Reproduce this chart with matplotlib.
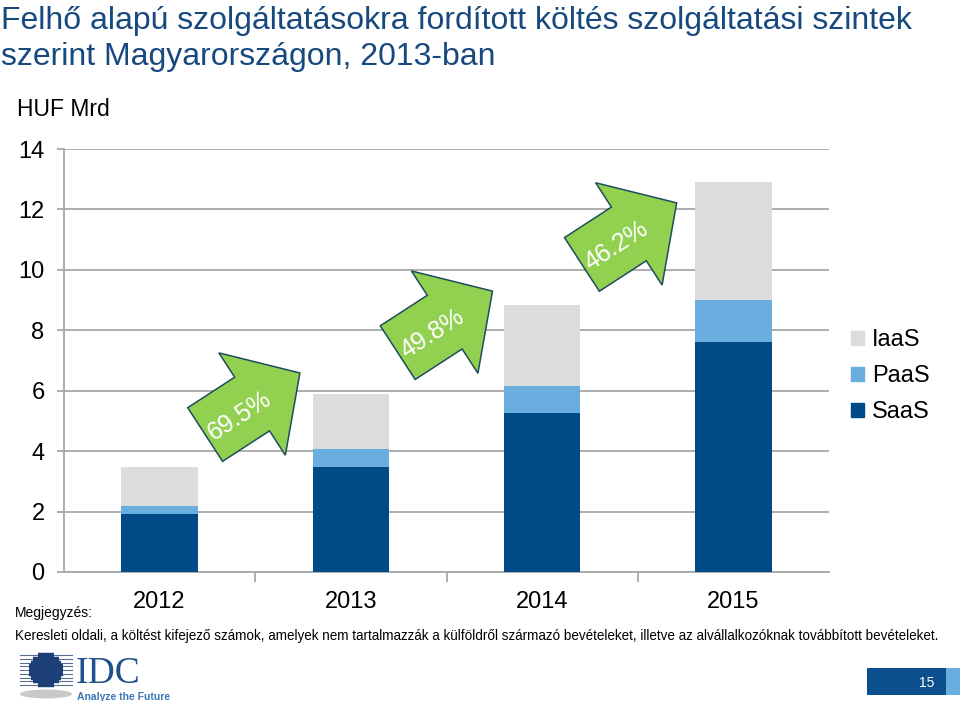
import numpy as np
import matplotlib
matplotlib.use('Agg')
import matplotlib.pyplot as plt
import matplotlib.transforms as mtransforms
from matplotlib.patches import Polygon, Rectangle, Ellipse, Patch

plt.rcParams['font.family'] = ['Liberation Sans', 'DejaVu Sans']

# Data (HUF Mrd)
years = ['2012', '2013', '2014', '2015']
saas = [1.92, 3.48, 5.26, 7.61]
paas = [0.26, 0.59, 0.90, 1.39]
iaas = [1.30, 1.82, 2.68, 3.91]
growth_labels = ['69.5%', '49.8%', '46.2%']
# arrow tail centres (data coords), between the bars
arrow_x = [0.238, 1.245, 2.208]
arrow_y = [4.55, 7.26, 10.18]

c_saas = '#004b87'
c_paas = '#6aaddf'
c_iaas = '#dcdcdc'
c_grid = '#a8a8a8'
c_title = '#17497f'

W, H = 960, 701
fig = plt.figure(figsize=(W / 100, H / 100), dpi=100)

# main axes
ax = fig.add_axes([64 / W, 1 - 572 / H, 765 / W, 423 / H])
x = np.arange(len(years))
bw = 0.4
ax.bar(x, saas, bw, color=c_saas, label='SaaS', zorder=3)
ax.bar(x, paas, bw, bottom=saas, color=c_paas, label='PaaS', zorder=3)
bot2 = np.array(saas) + np.array(paas)
ax.bar(x, iaas, bw, bottom=bot2, color=c_iaas, label='IaaS', zorder=3)

ax.set_xlim(-0.5, 3.5)
ax.set_ylim(0, 14)
ax.set_yticks(np.arange(0, 15, 2))
ax.yaxis.grid(True, color=c_grid, lw=1.3, zorder=0)
ax.set_axisbelow(True)
ax.tick_params(axis='y', length=5, color=c_grid, width=1.3, labelsize=17, pad=9)
ax.set_xticks(x)
ax.set_xticklabels(years)
ax.set_xticks([0.5, 1.5, 2.5], minor=True)
ax.tick_params(axis='x', which='major', length=0, labelsize=17, pad=14)
ax.tick_params(axis='x', which='minor', length=7, color=c_grid, width=1.3)
for s in ['top', 'right']:
    ax.spines[s].set_visible(False)
for s in ['left', 'bottom']:
    ax.spines[s].set_color(c_grid)
    ax.spines[s].set_linewidth(1.3)

# growth arrows (shape in pixels: tail centre at origin, pointing along +x)
shape = [(0, 32), (56, 32), (56, 61), (113, 0), (56, -61), (56, -32), (0, -32)]
ang = 33
for ax_, ay_, lab in zip(arrow_x, arrow_y, growth_labels):
    tr = mtransforms.Affine2D().rotate_deg(ang) + mtransforms.ScaledTranslation(ax_, ay_, ax.transData)
    ax.add_patch(Polygon(shape, closed=True, transform=tr, fc='#92d050', ec='#1f4d5e',
                         lw=1.1, zorder=5, clip_on=False))
    off = 40
    ax.annotate(lab, xy=(ax_, ay_), xytext=(off * np.cos(np.radians(ang)) + 1, off * np.sin(np.radians(ang)) - 3),
                textcoords='offset pixels', rotation=ang, rotation_mode='anchor',
                ha='center', va='center', color='white', fontsize=18, zorder=6)

# legend
handles = [Patch(color=c_iaas), Patch(color=c_paas), Patch(color=c_saas)]
fig.legend(handles, ['IaaS', 'PaaS', 'SaaS'], loc='upper left', bbox_to_anchor=(851 / W, 1 - 329 / H),
           frameon=False, fontsize=17, handlelength=0.55, handleheight=0.55, handletextpad=0.35,
           labelspacing=0.6, borderpad=0, borderaxespad=0)

# titles and notes
fig.text(1 / W, 1 - 29 / H, 'Felhő alapú szolgáltatásokra fordított költés szolgáltatási szintek',
         fontsize=23, color=c_title, va='baseline')
fig.text(1 / W, 1 - 65 / H, 'szerint Magyarországon, 2013-ban', fontsize=23, color=c_title, va='baseline')
fig.text(17 / W, 1 - 110 / H, 'HUF Mrd', fontsize=16.5, va='center')
fig.text(15 / W, 1 - 617 / H, 'Megjegyzés:', fontsize=10, va='baseline')
fig.text(15 / W, 1 - 640 / H, 'Keresleti oldali, a költést kifejező számok, amelyek nem tartalmazzák a külföldről '
         'származó bevételeket, illetve az alvállalkozóknak továbbított bevételeket.', fontsize=9.75, va='baseline')

# footer decorations in a pixel-coordinate overlay
deco = fig.add_axes([0, 0, 1, 1], zorder=10)
deco.set_xlim(0, W)
deco.set_ylim(H, 0)
deco.axis('off')
deco.patch.set_alpha(0)

# IDC logo
deco.add_patch(Ellipse((46, 694), 52, 9, fc='#c9c9c9', ec='none'))
cx, cy, r = 46, 670, 17
for i, yy in enumerate(np.linspace(cy - 15, cy + 15, 9)):
    half = np.sqrt(max(r ** 2 - (yy - cy) ** 2, 0))
    deco.plot([20, 72], [yy, yy], color='#5a6f8f', lw=0.8)
    deco.plot([cx - half, cx + half], [yy, yy], color='#1d3f78', lw=3.2, solid_capstyle='butt')
deco.text(76, 683, 'IDC', family='Liberation Serif', fontsize=27, color='#1f4f8c', va='baseline')
deco.text(77, 697, 'Analyze the Future', fontsize=7.5, color='#3a78b5', va='center', fontweight='bold')

# page number box
deco.add_patch(Rectangle((867, 668), 79, 27, fc='#0b4f8f', ec='none'))
deco.add_patch(Rectangle((946, 668), 14, 27, fc='#6aaddf', ec='none'))
deco.text(927, 683, '15', color='white', fontsize=10, ha='center', va='center')

fig.savefig('out.png', dpi=100)
